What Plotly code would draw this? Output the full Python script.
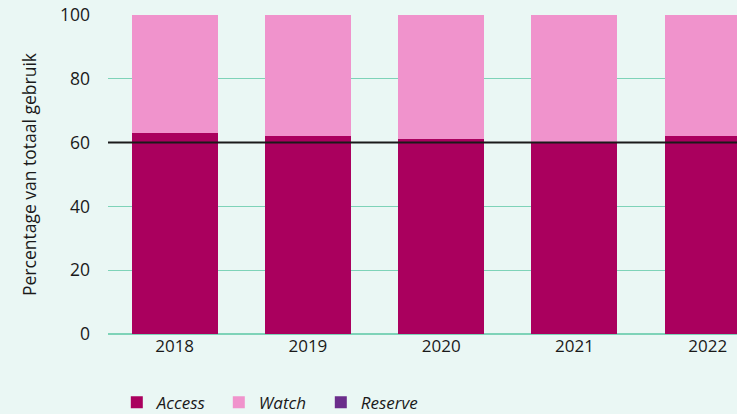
import plotly.graph_objects as go

years = ["2018", "2019", "2020", "2021", "2022"]
access = [63.0, 62.1, 61.2, 60.2, 62.1]
reserve = [0.0, 0.0, 0.0, 0.0, 0.0]
watch = [round(100 - a - r, 1) for a, r in zip(access, reserve)]
y_ticks = [0, 20, 40, 60, 80, 100]
ref_level = 60

bg = "#EAF7F4"
grid = "#7ED3B8"
font_family = "Open Sans, Noto Sans, sans-serif"

fig = go.Figure()
fig.add_bar(x=years, y=access, name="Access", marker_color="#AA005E", marker_line_width=0)
fig.add_bar(x=years, y=watch, name="Watch", marker_color="#F093CC", marker_line_width=0)
fig.add_bar(x=years, y=reserve, name="Reserve", marker_color="#6B2D8B", marker_line_width=0)

fig.add_shape(type="line", xref="paper", x0=0, x1=1, yref="y", y0=ref_level, y1=ref_level,
              line=dict(color="#1a1a1a", width=2), layer="above")

fig.update_layout(
    width=737, height=414,
    barmode="stack", bargap=0.355,
    paper_bgcolor=bg, plot_bgcolor=bg,
    margin=dict(l=108, r=0, t=15, b=80, autoexpand=False),
    font=dict(family=font_family, size=17, color="#1a1a1a"),
    showlegend=True,
    legend=dict(orientation="h", x=0.014, xref="paper", y=0.027, yanchor="middle",
                yref="container",
                font=dict(size=17, family=font_family, style="italic"),
                itemsizing="constant", traceorder="normal", entrywidth=57,
                entrywidthmode="pixels"),
    xaxis=dict(range=[-0.5, 4.22], showgrid=False, showline=False, ticks="",
               tickfont=dict(size=17), fixedrange=True),
    yaxis=dict(range=[0, 100], tickvals=y_ticks, showgrid=True, gridcolor=grid, gridwidth=1,
               zeroline=True, zerolinecolor=grid, zerolinewidth=1.5,
               ticks="", ticklabelstandoff=17,
               title=dict(text="Percentage van totaal gebruik", font=dict(size=17.5), standoff=18),
               tickfont=dict(size=17.5)),
)

fig.write_html("out.html", config={"displayModeBar": False},
               post_script="document.body.style.margin='0';document.body.style.overflow='hidden';")
